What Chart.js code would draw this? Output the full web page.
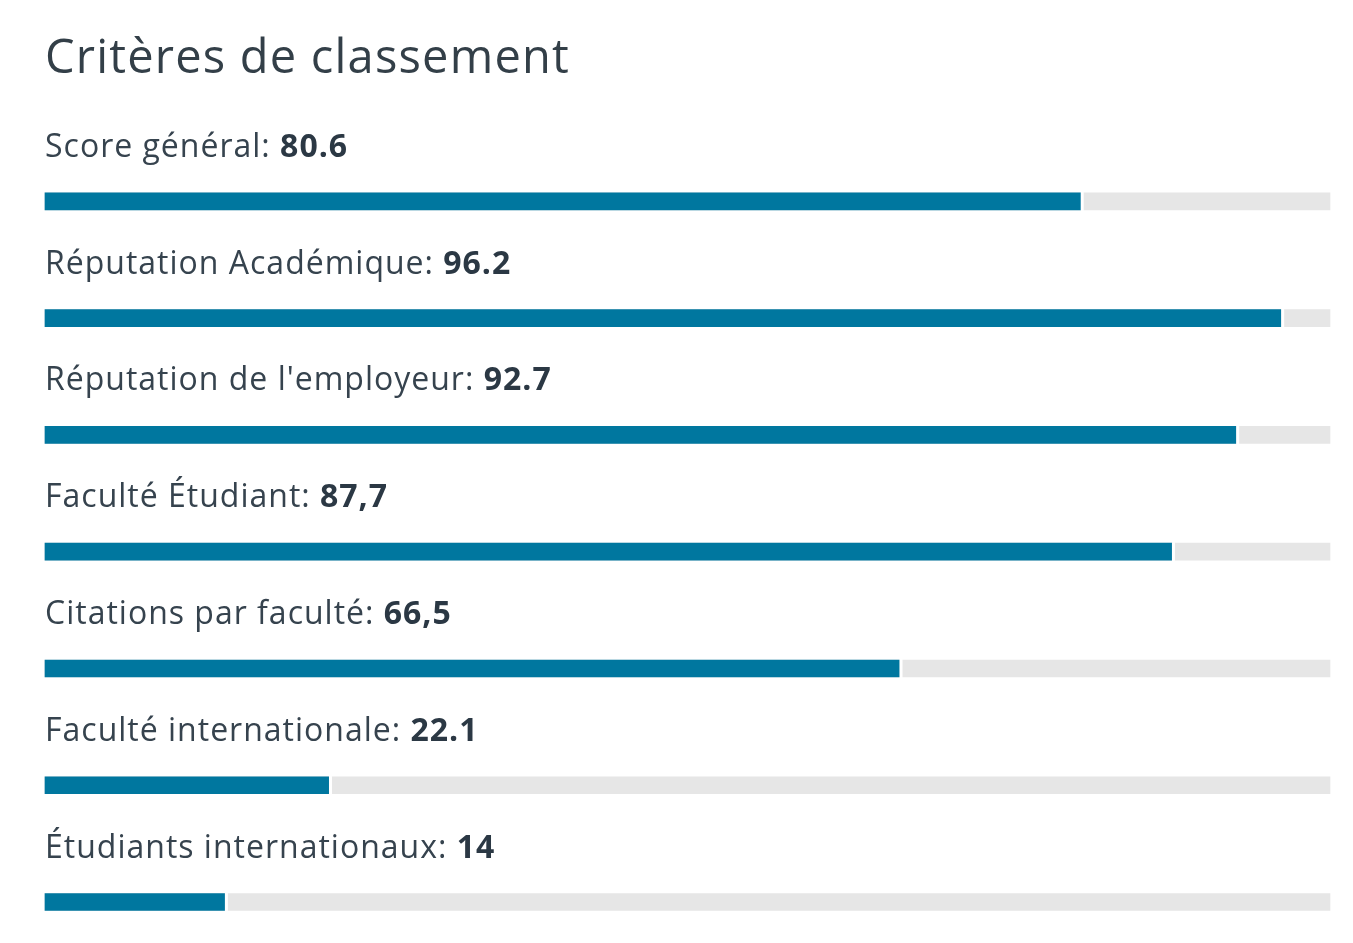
<!DOCTYPE html>
<html>
<head>
<meta charset="utf-8">
<script src="https://cdn.jsdelivr.net/npm/chart.js@4"></script>
<style>
html,body{margin:0;padding:0;background:#fff;}
#wrap{width:1353px;height:943px;position:relative;}
</style>
</head>
<body>
<div id="wrap"><canvas id="c" width="1353" height="943"></canvas></div>
<script>
const title = 'Critères de classement';
const categories = ['Score général', 'Réputation Académique', "Réputation de l'employeur", 'Faculté Étudiant', 'Citations par faculté', 'Faculté internationale', 'Étudiants internationaux'];
const scores = [80.6, 96.2, 92.7, 87.7, 66.5, 22.1, 14];
const scoreLabels = ['80.6', '96.2', '92.7', '87,7', '66,5', '22.1', '14'];
const trackMax = [100, 100, 100, 100, 100, 100, 100];

const FONT = "'Open Sans', 'Noto Sans', sans-serif";

const spacingPlugin = {
  id: 'spacing',
  beforeDraw(chart) { chart.ctx.letterSpacing = '1.2px'; },
  afterDraw(chart) { chart.ctx.letterSpacing = '0px'; }
};

const labelPlugin = {
  id: 'rowLabels',
  afterDatasetsDraw(chart) {
    const ctx = chart.ctx;
    const y = chart.scales.y;
    const left = chart.chartArea.left;
    ctx.save();
    // small white gap between value bar and track
    const meta = chart.getDatasetMeta(0);
    ctx.fillStyle = '#ffffff';
    meta.data.forEach(bar => {
      ctx.fillRect(bar.x, bar.y - bar.height / 2 - 1, 3, bar.height + 2);
    });
    ctx.letterSpacing = '1px';
    ctx.textBaseline = 'alphabetic';
    ctx.textAlign = 'left';
    categories.forEach((cat, i) => {
      const cy = y.getPixelForValue(i) - 44.5;
      ctx.font = '400 32px ' + FONT;
      ctx.fillStyle = '#36434e';
      const t1 = cat + ': ';
      ctx.fillText(t1, left, cy);
      const w = ctx.measureText(t1).width;
      ctx.font = '700 32px ' + FONT;
      ctx.fillStyle = '#2b3844';
      ctx.fillText(scoreLabels[i], left + w, cy);
    });
    ctx.restore();
  }
};

new Chart(document.getElementById('c'), {
  type: 'bar',
  data: {
    labels: categories,
    datasets: [
      {
        data: scores,
        backgroundColor: '#00779f',
        borderWidth: 0,
        barThickness: 17,
        grouped: false,
        order: 0,
        clip: false
      },
      {
        data: trackMax,
        backgroundColor: '#e6e6e6',
        borderWidth: 0,
        barThickness: 17,
        grouped: false,
        order: 1,
        clip: false
      }
    ]
  },
  options: {
    indexAxis: 'y',
    responsive: false,
    animation: false,
    layout: { padding: { left: 45, right: 23, top: 0, bottom: 41 } },
    scales: {
      x: { display: false, min: 0, max: 100 },
      y: { display: false, offset: false }
    },
    plugins: {
      legend: { display: false },
      tooltip: { enabled: false },
      title: {
        display: true,
        text: title,
        align: 'start',
        color: '#333f48',
        font: { family: FONT, size: 47, weight: '400' },
        padding: { top: 31, bottom: 114 }
      }
    }
  },
  plugins: [spacingPlugin, labelPlugin]
});
</script>
</body>
</html>
